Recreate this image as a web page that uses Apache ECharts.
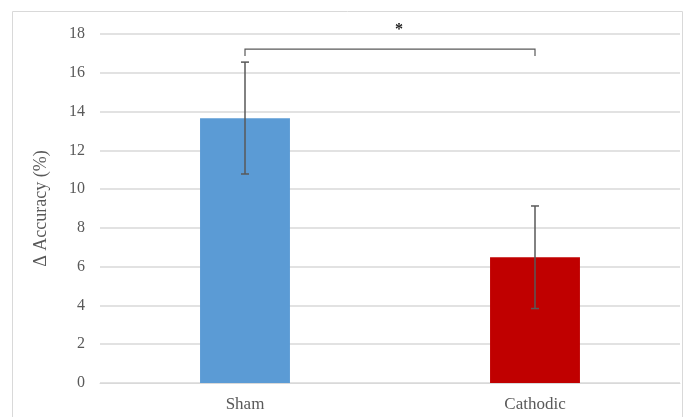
<!DOCTYPE html>
<html>
<head>
<meta charset="utf-8">
<script src="https://cdn.jsdelivr.net/npm/echarts@6/dist/echarts.min.js"></script>
<style>
  html, body { margin: 0; padding: 0; background: #fff; }
  #chart { width: 685px; height: 417px; }
</style>
</head>
<body>
<div id="chart"></div>
<script>
// groups and values
const categories = ['Sham', 'Cathodic']
const means = [13.65, 6.48]
const errLow = [10.78, 3.84]
const errHigh = [16.55, 9.13]
const barColors = ['#5b9bd5', '#c00000']

// significance bracket between the two groups
const bracketLevel = 17.22
const bracketDrop = 0.35
const bracketLabel = '*'

const yTicks = { min: 0, max: 18, interval: 2 }

const chart = echarts.init(document.getElementById('chart'))

const option = {
  animation: false,
  textStyle: { fontFamily: 'Liberation Serif' },
  graphic: [
    {
      type: 'rect',
      shape: { x: 12.5, y: 11.5, width: 670, height: 420 },
      style: { fill: 'none', stroke: '#d9d9d9', lineWidth: 1 },
      silent: true
    }
  ],
  grid: { left: 100, right: 5, top: 34, bottom: 34 },
  xAxis: {
    type: 'category',
    data: categories,
    axisLine: { lineStyle: { color: '#d9d9d9', width: 1 } },
    axisTick: { show: false },
    axisLabel: { color: '#595959', fontSize: 17, margin: 13, fontFamily: 'Liberation Serif' }
  },
  yAxis: {
    type: 'value',
    min: yTicks.min,
    max: yTicks.max,
    interval: yTicks.interval,
    name: 'Δ Accuracy (%)',
    nameLocation: 'middle',
    nameGap: 50,
    nameTextStyle: { color: '#595959', fontSize: 18, fontFamily: 'Liberation Serif' },
    axisLine: { show: false },
    axisTick: { show: false },
    axisLabel: { color: '#595959', fontSize: 16, margin: 15, fontFamily: 'Liberation Serif' },
    splitLine: { lineStyle: { color: '#d9d9d9', width: 1.5 } }
  },
  series: [
    {
      type: 'bar',
      barWidth: '31%',
      data: means.map((v, i) => ({ value: v, itemStyle: { color: barColors[i] } })),
      z: 2
    },
    {
      // error bars
      type: 'custom',
      z: 5,
      data: categories.map((c, i) => [i, errLow[i], errHigh[i]]),
      renderItem: (params, api) => {
        const lo = api.coord([api.value(0), api.value(1)])
        const hi = api.coord([api.value(0), api.value(2)])
        const cap = 4
        const st = { stroke: '#595959', lineWidth: 1.5 }
        return {
          type: 'group',
          children: [
            { type: 'line', shape: { x1: hi[0], y1: hi[1], x2: lo[0], y2: lo[1] }, style: st },
            { type: 'line', shape: { x1: hi[0] - cap, y1: hi[1], x2: hi[0] + cap, y2: hi[1] }, style: st },
            { type: 'line', shape: { x1: lo[0] - cap, y1: lo[1], x2: lo[0] + cap, y2: lo[1] }, style: st }
          ]
        }
      }
    },
    {
      // significance bracket
      type: 'custom',
      z: 5,
      data: [[0, 1, bracketLevel]],
      renderItem: (params, api) => {
        const a = api.coord([api.value(0), api.value(2)])
        const b = api.coord([api.value(1), api.value(2)])
        const a2 = api.coord([api.value(0), api.value(2) - bracketDrop])
        const b2 = api.coord([api.value(1), api.value(2) - bracketDrop])
        const st = { stroke: '#595959', lineWidth: 1.2, fill: 'none' }
        return {
          type: 'group',
          children: [
            { type: 'polyline', shape: { points: [a2, a, b, b2] }, style: st },
            {
              type: 'text',
              x: (a[0] + b[0]) / 2 + 9,
              y: a[1] - 19,
              style: {
                text: bracketLabel,
                fill: '#222',
                font: 'bold 16px Liberation Serif',
                align: 'center',
                verticalAlign: 'middle'
              }
            }
          ]
        }
      }
    }
  ]
}

chart.setOption(option)
</script>
</body>
</html>
